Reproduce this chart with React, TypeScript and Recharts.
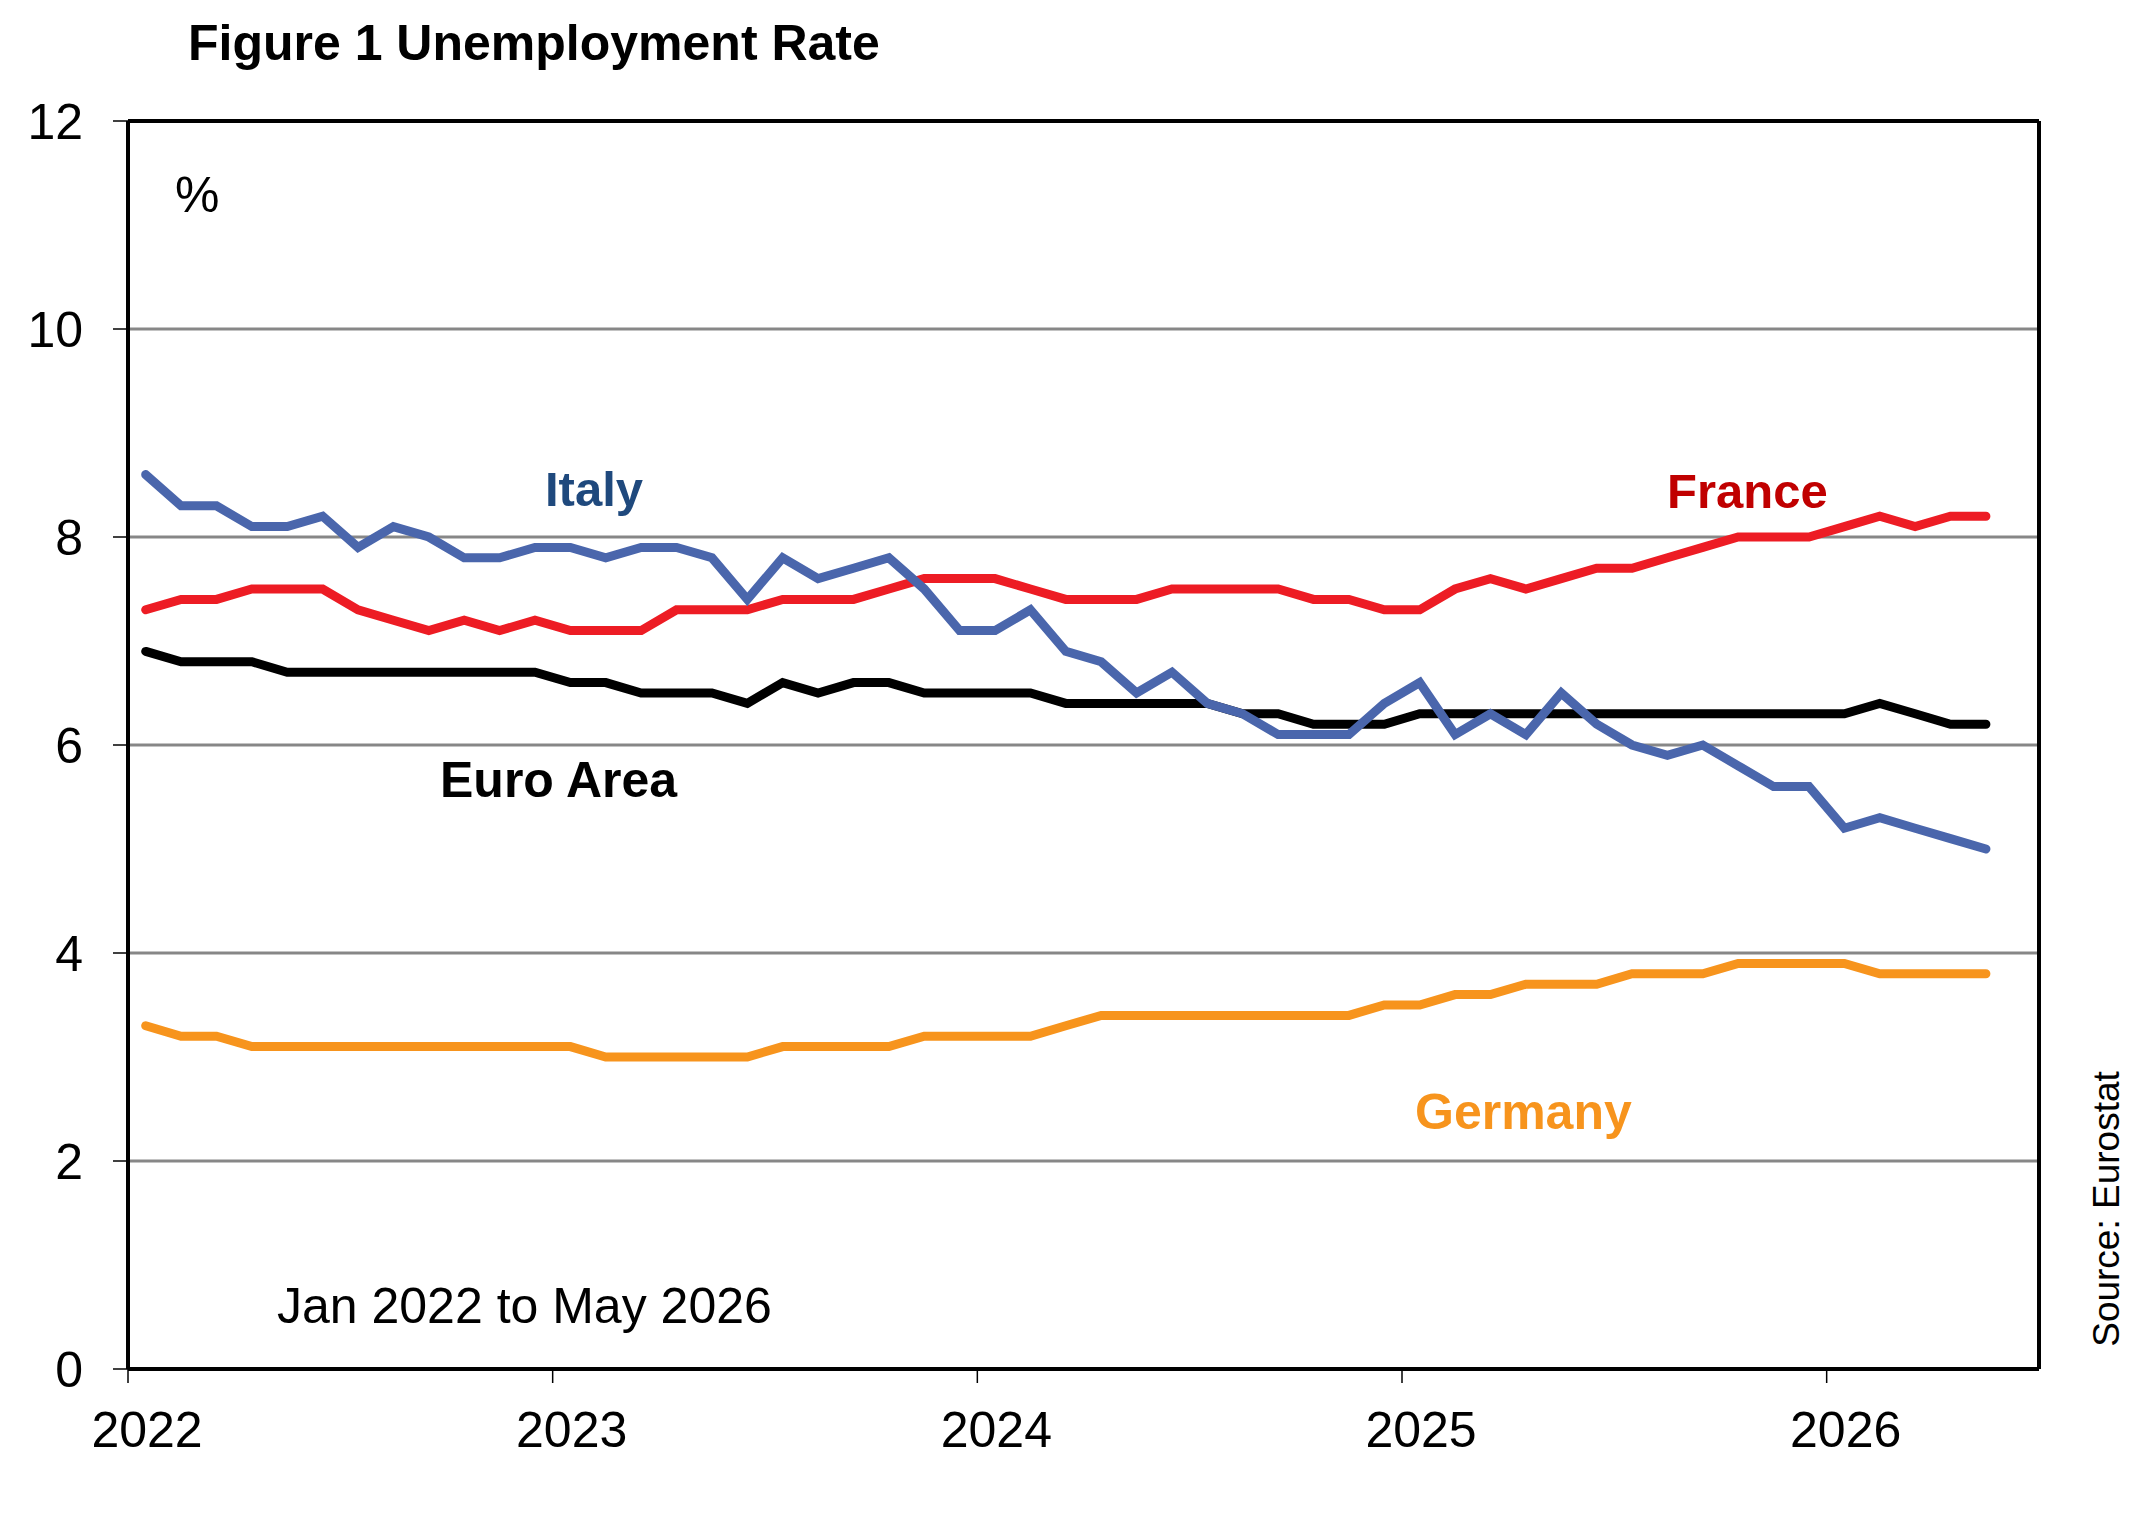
import React from "react";
import { LineChart, Line, XAxis, YAxis, CartesianGrid, ReferenceLine } from "recharts";

const FONT = "'Liberation Sans', Arial, Helvetica, sans-serif";

const years = [2022, 2023, 2024, 2025, 2026];
const monthNames = ["Jan", "Feb", "Mar", "Apr", "May", "Jun", "Jul", "Aug", "Sep", "Oct", "Nov", "Dec"];
const yTicks = [0, 2, 4, 6, 8, 10, 12];
const xTicks = [2022, 2023, 2024, 2025, 2026];

const italy = [
  8.6, 8.3, 8.3, 8.1, 8.1, 8.2, 7.9, 8.1, 8.0, 7.8, 7.8, 7.9,
  7.9, 7.8, 7.9, 7.9, 7.8, 7.4, 7.8, 7.6, 7.7, 7.8, 7.5, 7.1,
  7.1, 7.3, 6.9, 6.8, 6.5, 6.7, 6.4, 6.3, 6.1, 6.1, 6.1, 6.4,
  6.6, 6.1, 6.3, 6.1, 6.5, 6.2, 6.0, 5.9, 6.0, 5.8, 5.6, 5.6,
  5.2, 5.3, 5.2, 5.1, 5.0,
];
const france = [
  7.3, 7.4, 7.4, 7.5, 7.5, 7.5, 7.3, 7.2, 7.1, 7.2, 7.1, 7.2,
  7.1, 7.1, 7.1, 7.3, 7.3, 7.3, 7.4, 7.4, 7.4, 7.5, 7.6, 7.6,
  7.6, 7.5, 7.4, 7.4, 7.4, 7.5, 7.5, 7.5, 7.5, 7.4, 7.4, 7.3,
  7.3, 7.5, 7.6, 7.5, 7.6, 7.7, 7.7, 7.8, 7.9, 8.0, 8.0, 8.0,
  8.1, 8.2, 8.1, 8.2, 8.2,
];
const euroArea = [
  6.9, 6.8, 6.8, 6.8, 6.7, 6.7, 6.7, 6.7, 6.7, 6.7, 6.7, 6.7,
  6.6, 6.6, 6.5, 6.5, 6.5, 6.4, 6.6, 6.5, 6.6, 6.6, 6.5, 6.5,
  6.5, 6.5, 6.4, 6.4, 6.4, 6.4, 6.4, 6.3, 6.3, 6.2, 6.2, 6.2,
  6.3, 6.3, 6.3, 6.3, 6.3, 6.3, 6.3, 6.3, 6.3, 6.3, 6.3, 6.3,
  6.3, 6.4, 6.3, 6.2, 6.2,
];
const germany = [
  3.3, 3.2, 3.2, 3.1, 3.1, 3.1, 3.1, 3.1, 3.1, 3.1, 3.1, 3.1,
  3.1, 3.0, 3.0, 3.0, 3.0, 3.0, 3.1, 3.1, 3.1, 3.1, 3.2, 3.2,
  3.2, 3.2, 3.3, 3.4, 3.4, 3.4, 3.4, 3.4, 3.4, 3.4, 3.4, 3.5,
  3.5, 3.6, 3.6, 3.7, 3.7, 3.7, 3.8, 3.8, 3.8, 3.9, 3.9, 3.9,
  3.9, 3.8, 3.8, 3.8, 3.8,
];

// Month categories: Jan 2022 .. May 2026, placed at mid-month on a numeric year axis
const months: { label: string; x: number }[] = [];
years.forEach((y) => {
  monthNames.forEach((m, mi) => {
    if (months.length < italy.length) months.push({ label: `${m} ${y}`, x: y + (mi + 0.5) / 12 });
  });
});

const data = months.map((m, i) => ({
  month: m.label,
  x: m.x,
  italy: italy[i],
  france: france[i],
  euro: euroArea[i],
  germany: germany[i],
}));

const W = 2130;
const H = 1512;

const YTick = (props: any) => {
  const { x, y, payload } = props;
  return (
    <text x={x} y={y} dy="0.355em" textAnchor="end" fontFamily={FONT} fontSize={50} fill="#000">
      {payload.value}
    </text>
  );
};

const XTick = (props: any) => {
  const { x, y, payload } = props;
  return (
    <text x={x + 19} y={y + 64} textAnchor="middle" fontFamily={FONT} fontSize={50} fill="#000">
      {payload.value}
    </text>
  );
};

export default function App() {
  return (
    <div style={{ position: "relative", width: W, height: H, background: "#fff" }}>
      <LineChart width={W} height={H} data={data} margin={{ top: 113, right: 99, bottom: 51, left: 0 }}>
        <CartesianGrid vertical={false} stroke="#878787" strokeWidth={3} />
        <XAxis
          dataKey="x"
          type="number"
          domain={[2022, 2026.5]}
          ticks={xTicks}
          interval={0}
          height={100}
          tickSize={14}
          tickMargin={0}
          axisLine={{ stroke: "#000", strokeWidth: 4 }}
          tickLine={{ stroke: "#000", strokeWidth: 1.5 }}
          tick={<XTick />}
          allowDataOverflow
        />
        <YAxis
          type="number"
          domain={[0, 12]}
          ticks={yTicks}
          interval={0}
          width={120}
          tickSize={15}
          tickMargin={30}
          axisLine={{ stroke: "#000", strokeWidth: 4 }}
          tickLine={{ stroke: "#000", strokeWidth: 1.5 }}
          tick={<YTick />}
        />
        <ReferenceLine y={12} stroke="#000" strokeWidth={4} />
        <ReferenceLine x={2026.5} stroke="#000" strokeWidth={4} />
        <Line type="linear" dataKey="euro" stroke="#000000" strokeWidth={9} dot={false} strokeLinecap="round" isAnimationActive={false} />
        <Line type="linear" dataKey="france" stroke="#ED1C24" strokeWidth={9} dot={false} strokeLinecap="round" isAnimationActive={false} />
        <Line type="linear" dataKey="germany" stroke="#F7941D" strokeWidth={9} dot={false} strokeLinecap="round" isAnimationActive={false} />
        <Line type="linear" dataKey="italy" stroke="#4A66AC" strokeWidth={9} dot={false} strokeLinecap="round" isAnimationActive={false} />
      </LineChart>
      <svg width={W} height={H} style={{ position: "absolute", left: 0, top: 0, pointerEvents: "none" }}>
        <text x={180} y={52} fontFamily={FONT} fontSize={50} fontWeight="bold" fill="#000">
          Figure 1 Unemployment Rate
        </text>
        <text x={167} y={204} fontFamily={FONT} fontSize={50} fill="#000">%</text>
        <text x={537} y={498} fontFamily={FONT} fontSize={49} fontWeight="bold" fill="#1F497D">Italy</text>
        <text x={1659} y={500} fontFamily={FONT} fontSize={49} fontWeight="bold" fill="#C00000">France</text>
        <text x={432} y={789} fontFamily={FONT} fontSize={50} fontWeight="bold" fill="#000">Euro Area</text>
        <text x={1407} y={1121} fontFamily={FONT} fontSize={50} fontWeight="bold" fill="#F7941D">Germany</text>
        <text x={269} y={1315} fontFamily={FONT} fontSize={50} fill="#000">Jan 2022 to May 2026</text>
        <text
          x={2098}
          y={1201}
          transform="rotate(-90 2098 1201)"
          textAnchor="middle"
          dominantBaseline="central"
          fontFamily={FONT}
          fontSize={37}
          fill="#000"
        >
          Source: Eurostat
        </text>
      </svg>
    </div>
  );
}
